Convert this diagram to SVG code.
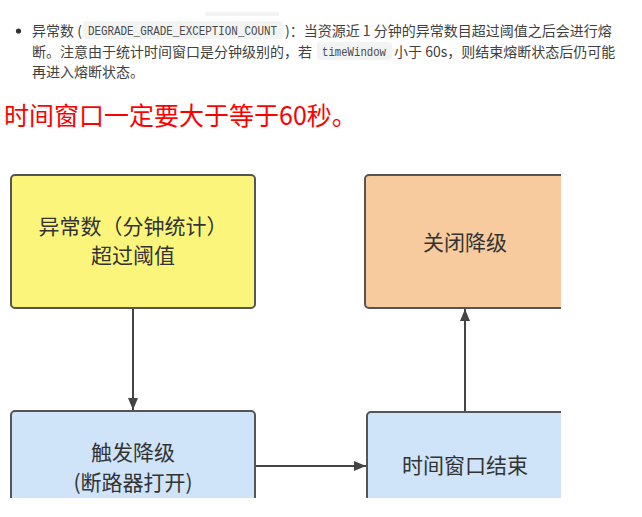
<svg xmlns="http://www.w3.org/2000/svg" width="642" height="517" viewBox="0 0 642 517">
  <style>
    .para { font-family: "Noto Sans CJK SC", "Liberation Sans", sans-serif; font-size: 14px; fill: #404040; }
    .code { font-family: "Liberation Mono", "DejaVu Sans Mono", monospace; font-size: 12px; fill: #4a4a4a; }
    .codebg { fill: #f2f3f3; }
    .note { font-family: "Noto Sans CJK SC", "Liberation Sans", sans-serif; font-size: 25px; fill: #ff0000; }
    .box { stroke: #555555; stroke-width: 2; }
    .label { font-family: "Noto Sans CJK SC", "Liberation Sans", sans-serif; font-size: 21px; fill: #333333; text-anchor: middle; }
    .edge { stroke: #444444; stroke-width: 2; fill: none; marker-end: url(#arrow); }
  </style>
  <defs>
    <marker id="arrow" viewBox="0 0 12 10" refX="12" refY="5" markerWidth="12" markerHeight="10" markerUnits="userSpaceOnUse" orient="auto">
      <path d="M0,0 L12,5 L0,10 Z" fill="#444444"/>
    </marker>
    <clipPath id="frame">
      <rect x="0" y="150" width="561" height="348"/>
    </clipPath>
  </defs>

  <rect width="642" height="517" fill="#ffffff"/>

  <!-- bullet paragraph -->
  <g id="paragraph">
    <rect x="205" y="12" width="74" height="4" fill="#f3f3f3"/>
    <circle cx="18.5" cy="31" r="2.6" fill="#333333"/>
    <text class="para" x="32" y="36">异常数 (</text>
    <rect class="codebg" x="83" y="21" width="200" height="18" rx="3"/>
    <text class="code" x="88" y="34.5" textLength="189" lengthAdjust="spacingAndGlyphs">DEGRADE_GRADE_EXCEPTION_COUNT</text>
    <text class="para" x="285" y="36">)：当资源近 1 分钟的异常数目超过阈值之后会进行熔</text>
    <text class="para" x="32" y="57">断。注意由于统计时间窗口是分钟级别的，若</text>
    <rect class="codebg" x="317" y="42" width="75" height="18" rx="3"/>
    <text class="code" x="322" y="55.5" textLength="64" lengthAdjust="spacingAndGlyphs">timeWindow</text>
    <text class="para" x="394" y="57"> 小于 60s，则结束熔断状态后仍可能</text>
    <text class="para" x="32" y="77">再进入熔断状态。</text>
  </g>

  <text id="headline" class="note" x="4" y="125">时间窗口一定要大于等于60秒。</text>

  <g clip-path="url(#frame)">
    <g id="node-threshold">
      <rect class="box" x="11" y="175" width="244" height="133" rx="4" fill="#fbf67b"/>
      <text class="label" x="133" y="234">异常数（分钟统计）</text>
      <text class="label" x="133" y="263">超过阈值</text>
    </g>
    <g id="node-close">
      <rect class="box" x="365" y="175" width="244" height="133" rx="4" fill="#f7cb9e"/>
      <text class="label" x="465" y="250">关闭降级</text>
    </g>
    <g id="node-trigger">
      <rect class="box" x="11" y="411" width="244" height="133" rx="4" fill="#cfe3f9"/>
      <text class="label" x="133" y="460">触发降级</text>
      <text class="label" x="133" y="490">(断路器打开)</text>
    </g>
    <g id="node-window-end">
      <rect class="box" x="367" y="412" width="244" height="133" rx="4" fill="#cfe3f9"/>
      <text class="label" x="465" y="473">时间窗口结束</text>
    </g>
    <g id="connectors">
      <line class="edge" x1="133" y1="309" x2="133" y2="410"/>
      <line class="edge" x1="256" y1="466" x2="366" y2="466"/>
      <line class="edge" x1="465" y1="411" x2="465" y2="309"/>
    </g>
  </g>
</svg>
